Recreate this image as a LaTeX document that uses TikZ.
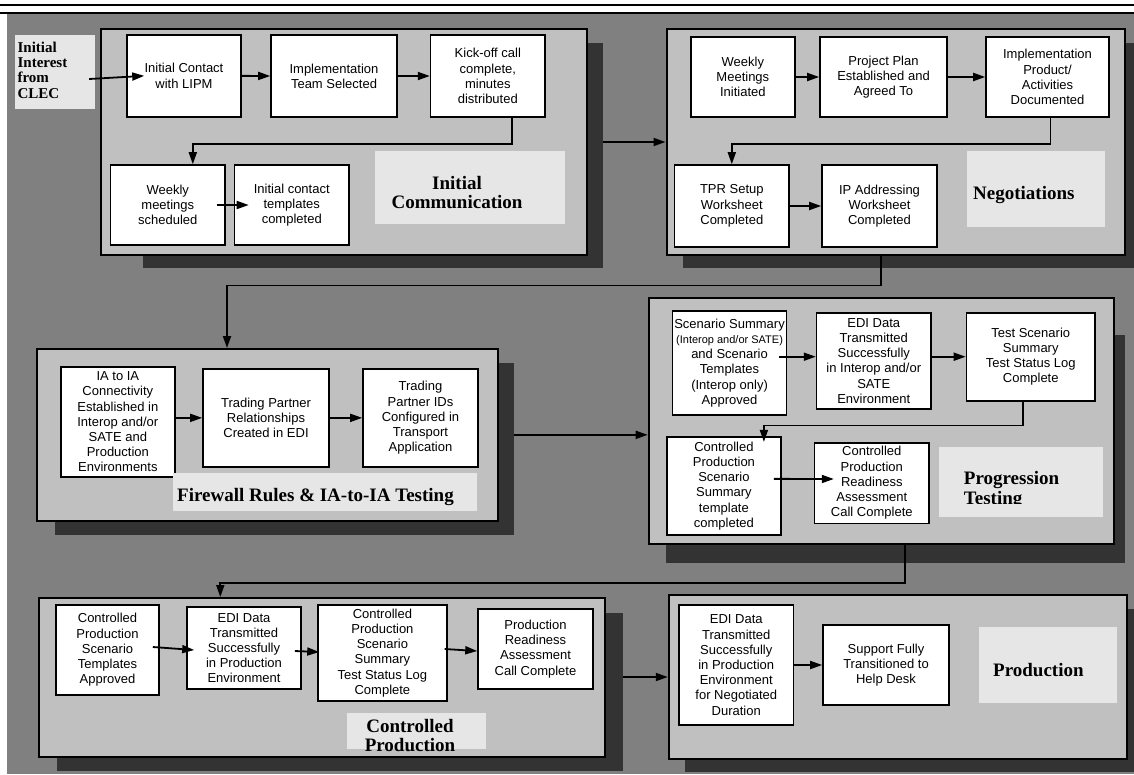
\documentclass[tikz,border=0pt]{standalone}
\usepackage{fontspec}
\setmainfont{Liberation Serif}
\setsansfont{Liberation Sans}
\usetikzlibrary{arrows.meta,calc}

\definecolor{bggray}{HTML}{808080}
\definecolor{panelgray}{HTML}{C0C0C0}
\definecolor{shadowgray}{HTML}{333333}
\definecolor{taggray}{HTML}{E6E6E6}

\tikzset{
  castshadow/.style={fill=shadowgray, draw=none, inner sep=0pt},
  panel/.style={draw=black, line width=2pt, fill=panelgray, inner sep=0pt},
  stepbox/.style={draw=black, line width=1.6pt, fill=white, inner sep=0pt,
    align=center, font=\sffamily\fontsize{13}{15.2}\selectfont},
  tag/.style={fill=taggray, draw=none, inner sep=0pt},
  tagtext/.style={inner sep=0pt, font=\bfseries\fontsize{19}{19.5}\selectfont},
  conn/.style={line width=1.8pt, -{Triangle[length=12pt,width=8pt]}},
}

% rectangle node from its two corners: name, style, x1, y1, x2, y2, text
\newcommand\rectnode[7]{%
  \node[#2, minimum width={(#5-#3)*1pt}, minimum height={(#6-#4)*1pt}]
    (#1) at ({(#3+#5)/2},{(#4+#6)/2}) {#7};}

\begin{document}
\begin{tikzpicture}[x=1pt,y=-1pt]
\useasboundingbox (0,0) rectangle (1134,774);
\fill[white] (0,0) rectangle (1134,774);

% page background and header rules
\fill[bggray] (6.7,14) rectangle (1134,774);
\draw[line width=1.8pt] (0,5) -- (1134,5);
\draw[line width=2pt] (0,12.7) -- (1134,12.7);

% drop shadows
\rectnode{sh1}{castshadow}{143}{43}{602.8}{268}{}
\rectnode{sh2}{castshadow}{682.6}{43}{1134}{268}{}
\rectnode{sh3}{castshadow}{55}{363}{513.6}{535}{}
\rectnode{sh4}{castshadow}{666}{335}{1124.5}{562.7}{}
\rectnode{sh5}{castshadow}{57}{613}{623}{770.7}{}
\rectnode{sh6}{castshadow}{685}{609}{1134}{772}{}

% phase panels
\rectnode{p1}{panel}{100.6}{29}{586.7}{255}{}
\rectnode{p2}{panel}{666.5}{29}{1125}{255}{}
\rectnode{p3}{panel}{37}{349}{497.6}{520.7}{}
\rectnode{p4}{panel}{648.7}{298}{1114}{544.3}{}
\rectnode{p5}{panel}{38.8}{598}{605}{756.7}{}
\rectnode{p6}{panel}{668.8}{595}{1127}{759}{}

% flow between phases
\coordinate (b23) at (227,285.5);
\coordinate (b45) at (220.3,582.7);
\draw[conn] (sh1.east |- p2.west) -- (p2.west);
\draw[conn] ($(p2.south)+(-14.7,0)$) |- (b23) -- (b23 |- p3.north);
\draw[conn] (sh3.east |- p3.east) -- (p4.west |- p3.east);
\draw[conn] ($(p4.south)+(23.3,0)$) |- (b45) -- (b45 |- p5.north);
\draw[conn] (sh5.east |- p6.west) -- (p6.west);

% Initial Communication
\rectnode{clec}{tag}{14.8}{35}{95}{109}{}
\node[inner sep=0pt, anchor=north west, align=left,
      font=\bfseries\fontsize{15}{15.3}\selectfont] (clect) at (17.4,41.5)
      {Initial\\Interest\\from\\CLEC};
\rectnode{ic}{stepbox}{127}{34.7}{241}{117}{Initial Contact\\with LIPM}
\rectnode{its}{stepbox}{271}{35}{397}{117}{Implementation\\Team Selected}
\rectnode{kick}{stepbox}{430.6}{35}{545}{117}{Kick-off call\\complete,\\minutes\\distributed}
\rectnode{wms}{stepbox}{110.6}{165}{225}{245}{Weekly\\meetings\\scheduled}
\rectnode{ict}{stepbox}{234.5}{165}{349}{245}{Initial contact\\templates\\completed}
\rectnode{l1}{tag}{375}{151}{565}{224}{}
\node[tagtext, anchor=north, align=center] (l1t) at (457,176)
      {Initial\\Communication};

% Negotiations
\rectnode{wmi}{stepbox}{690.7}{37}{795}{117}{Weekly\\Meetings\\Initiated}
\rectnode{ppl}{stepbox}{820}{37}{947}{117}{Project Plan\\Established and\\Agreed To}
\rectnode{ipa}{stepbox}{986}{37}{1109}{117}{Implementation\\Product/\\Activities\\Documented}
\rectnode{tpr}{stepbox}{674.6}{165}{789}{247}{TPR Setup\\Worksheet\\Completed}
\rectnode{ipw}{stepbox}{822}{165}{937}{247}{IP Addressing\\Worksheet\\Completed}
\rectnode{l2}{tag}{967}{151}{1104.6}{227}{}
\node[tagtext, anchor=base west] (l2t) at (973,199) {Negotiations};

% Firewall Rules & IA-to-IA Testing
\rectnode{ia}{stepbox}{61}{367}{174.7}{476.7}{IA to IA\\Connectivity\\Established in\\Interop and/or\\SATE and\\Production\\Environments}
\rectnode{tpr2}{stepbox}{203}{369}{329}{466.7}{Trading Partner\\Relationships\\Created in EDI}
\rectnode{tpi}{stepbox}{363}{369}{478}{466.7}{Trading\\Partner IDs\\Configured in\\Transport\\Application}
\rectnode{l3}{tag}{172.6}{473}{477}{510.7}{}
\node[tagtext, anchor=base west] (l3t) at (177,501.5) {Firewall Rules \& IA-to-IA Testing};

% Progression Testing
\rectnode{scn}{stepbox}{672.5}{311}{786.6}{415}{Scenario Summary\\{\fontsize{11}{12}\selectfont (Interop and/or SATE)}\\and Scenario\\Templates\\(Interop only)\\Approved}
\rectnode{edi4}{stepbox}{816.6}{312.7}{931}{409}{EDI Data\\Transmitted\\Successfully\\in Interop and/or\\SATE\\Environment}
\rectnode{tss}{stepbox}{966.5}{312.7}{1095}{400.7}{Test Scenario\\Summary\\Test Status Log\\Complete}
\rectnode{cpt}{stepbox}{666.8}{436.7}{781}{535}{Controlled\\Production\\Scenario\\Summary\\template\\completed}
\rectnode{cpr}{stepbox}{814.6}{442.7}{929}{523.3}{Controlled\\Production\\Readiness\\Assessment\\Call Complete}
\rectnode{l4}{tag}{939}{446.7}{1103}{516.7}{}
\begin{scope}
  \clip (939,446.7) rectangle (1103,503);
  \node[tagtext, anchor=north west, align=left] (l4t) at (963.7,471.5)
        {Progression\\Testing};
\end{scope}

% Controlled Production
\rectnode{cpa}{stepbox}{56}{605}{159}{695}{Controlled\\Production\\Scenario\\Templates\\Approved}
\rectnode{edi5}{stepbox}{187}{607}{301}{689}{EDI Data\\Transmitted\\Successfully\\in Production\\Environment}
\rectnode{css}{stepbox}{318}{605}{446.8}{701}{Controlled\\Production\\Scenario\\Summary\\Test Status Log\\Complete}
\rectnode{prd}{stepbox}{478}{609}{593}{689}{Production\\Readiness\\Assessment\\Call Complete}
\rectnode{l5}{tag}{347}{713}{486}{748.7}{}
\node[tagtext, anchor=north, align=center] (l5t) at (410,719) {Controlled\\Production};

% Production
\rectnode{edi6}{stepbox}{679}{605}{793.5}{725}{EDI Data\\Transmitted\\Successfully\\in Production\\Environment\\for Negotiated\\Duration}
\rectnode{sft}{stepbox}{823}{625}{949}{705}{Support Fully\\Transitioned to\\Help Desk}
\rectnode{l6}{tag}{979}{627}{1117}{702.7}{}
\node[tagtext, anchor=base west] (l6t) at (993,676) {Production};

% steps within each phase
\draw[conn] ($(clec.east)+(-6,7)$) -- ($(ic.west)+(18,0)$);
\draw[conn] (ic.east) -- (its.west);
\draw[conn] (its.east) -- (kick.west);
\draw[conn] ($(kick.south)+(24,0)$) -- ++(0,26) -| ($(wms.north)+(25,0)$);
\draw[conn] ($(wms.east)+(-9,0)$) -- ($(ict.west)+(15,0)$);

\draw[conn] (wmi.east) -- (ppl.west);
\draw[conn] (ppl.east) -- (ipa.west);
\draw[conn] ($(ipa.south)+(3,0)$) -- ++(0,26) -| (tpr.north);
\draw[conn] (tpr.east) -- (ipw.west);

\draw[conn] (ia.east |- tpr2.west) -- (tpr2.west);
\draw[conn] (tpr2.east) -- (tpi.west);

\draw[conn] ($(scn.east |- tss.west)+(-8,0)$) -- (edi4.west |- tss.west);
\draw[conn] (edi4.east |- tss.west) -- (tss.west);
\draw[conn] ($(tss.south)+(-8,0)$) -- ++(0,24) -| ($(cpt.north)+(40,6)$);
\draw[conn] ($(cpt.east)+(-8,-7)$) -- ($(cpr.west)+(20,-4)$);

\draw[conn] ($(cpa.east)+(-7,-3)$) -- ($(edi5.west)+(8,2)$);
\draw[conn] ($(edi5.east)+(-7,3)$) -- ($(css.west)+(2,-1)$);
\draw[conn] ($(css.east)+(-3,-4)$) -- ($(prd.west)+(0,2)$);

\draw[conn] (edi6.east) -- (sft.west);
\end{tikzpicture}
\end{document}
